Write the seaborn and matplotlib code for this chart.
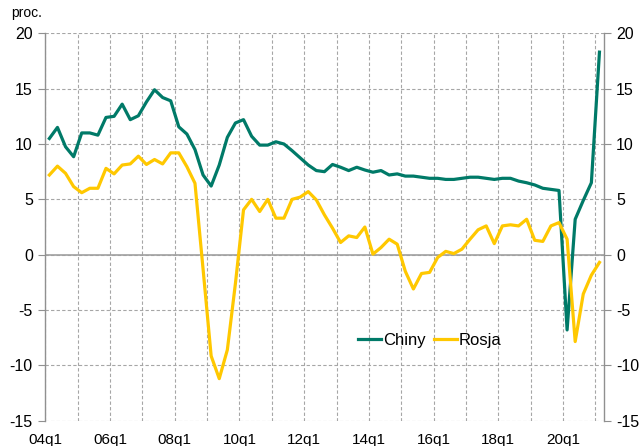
import matplotlib
matplotlib.use("Agg")
import matplotlib.pyplot as plt
import seaborn as sns
import pandas as pd

# quarterly y/y growth, 04q1 .. 21q1
chiny = [10.5, 11.5, 9.75, 8.85, 11.0, 11.0, 10.8, 12.4, 12.5, 13.6,
         12.2, 12.55, 13.8, 14.9, 14.2, 13.9, 11.55, 10.9, 9.5, 7.2,
         6.2, 8.1, 10.6, 11.9, 12.2, 10.7, 9.9, 9.9, 10.2, 10.0,
         9.4, 8.75, 8.1, 7.6, 7.5, 8.15, 7.9, 7.6, 7.9, 7.65,
         7.45, 7.6, 7.2, 7.3, 7.1, 7.1, 7.0, 6.9, 6.9, 6.8,
         6.8, 6.9, 7.0, 7.0, 6.9, 6.8, 6.9, 6.9, 6.65, 6.5,
         6.3, 6.0, 5.9, 5.8, -6.8, 3.2, 4.9, 6.5, 18.3]
rosja = [7.2, 8.0, 7.35, 6.15, 5.6, 6.0, 6.0, 7.8, 7.3, 8.1,
         8.2, 8.9, 8.15, 8.6, 8.2, 9.2, 9.2, 7.95, 6.45, -1.3,
         -9.15, -11.2, -8.6, -2.6, 4.05, 5.0, 3.9, 5.0, 3.3, 3.3,
         5.0, 5.2, 5.7, 4.95, 3.6, 2.4, 1.1, 1.7, 1.55, 2.5,
         0.05, 0.65, 1.4, 0.95, -1.5, -3.1, -1.7, -1.6, -0.25, 0.3,
         0.1, 0.5, 1.4, 2.25, 2.6, 1.0, 2.6, 2.7, 2.6, 3.2,
         1.3, 1.2, 2.6, 2.9, 1.4, -7.85, -3.55, -1.85, -0.7]
series_names = ["Chiny", "Rosja"]
colors = ["#007A68", "#FFC800"]
tick_labels = ["04q1", "06q1", "08q1", "10q1", "12q1", "14q1", "16q1", "18q1", "20q1"]

n = len(chiny)
df = pd.DataFrame({
    "x": [i + 0.5 for i in range(n)] * 2,
    "value": chiny + rosja,
    "kraj": [series_names[0]] * n + [series_names[1]] * n,
})

plt.rcParams["font.family"] = ["Liberation Sans", "DejaVu Sans"]
plt.rcParams["axes.unicode_minus"] = False
fig = plt.figure(figsize=(6.41, 4.46), dpi=100)
ax = fig.add_axes([0.0707, 0.0567, 0.8708, 0.8686])

sns.lineplot(data=df, x="x", y="value", hue="kraj", palette=colors,
             linewidth=2.3, ax=ax)

ax.set_xlim(0, n)
ax.set_ylim(-15, 20)
ax.set_yticks(range(-15, 21, 5))
ax.set_xticks(range(0, n, 4), minor=True)
ax.set_xticks(range(0, n - 4, 8))
ax.set_xticklabels(tick_labels)
ax.grid(True, which="both", axis="x", linestyle=(0, (3, 2)), color="#A6A6A6", linewidth=0.8)
ax.grid(True, which="major", axis="y", linestyle=(0, (3, 2)), color="#A6A6A6", linewidth=0.8)
ax.set_axisbelow(True)
ax.axhline(0, color="#A0A0A0", linewidth=1.2, zorder=1)

for s in ["top", "bottom"]:
    ax.spines[s].set_visible(False)
for s in ["left", "right"]:
    ax.spines[s].set_color("#909090")
    ax.spines[s].set_linewidth(1.0)

ax.tick_params(axis="y", left=True, right=True, labelleft=True, labelright=True,
               labelsize=11.5, length=5, color="#909090", pad=4)
ax.tick_params(axis="x", which="both", length=0, labelsize=11, pad=9)
ax.set_xlabel("")
ax.set_ylabel("")

fig.text(0.018, 0.955, "proc.", fontsize=10, ha="left", va="bottom")

ax.legend(loc="center left", bbox_to_anchor=(0.545, 0.208), ncol=2, frameon=False,
          fontsize=12, handlelength=1.4, handletextpad=0.1, columnspacing=0.5,
          borderpad=0)

fig.savefig("out.png", dpi=100)
